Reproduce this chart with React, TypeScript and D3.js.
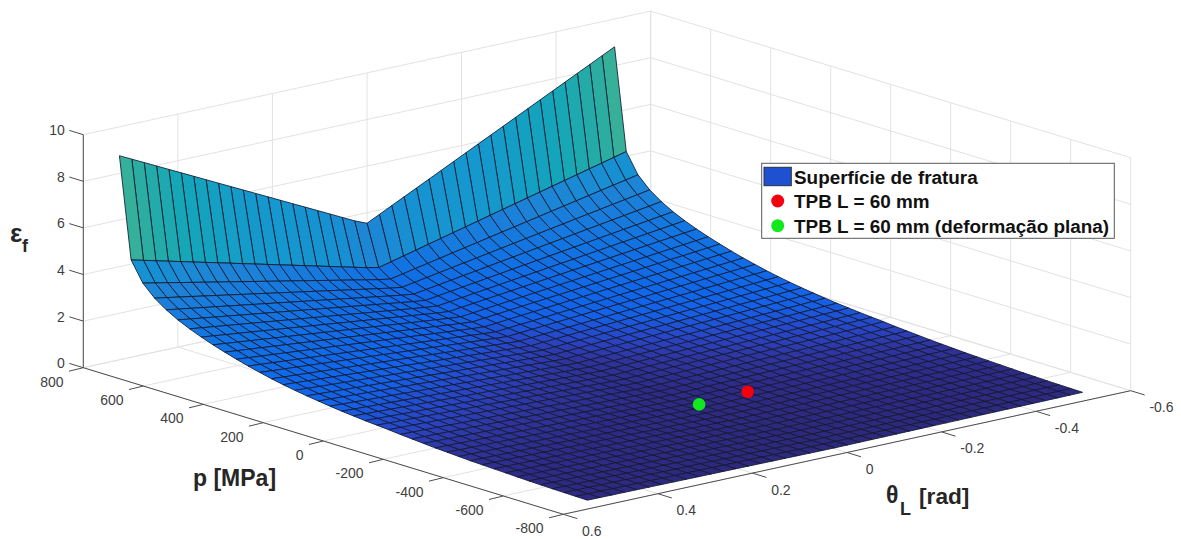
import React from "react";
import * as d3 from "d3";

// Data
const zTicks = [0, 2, 4, 6, 8, 10];
const pTicks = [800, 600, 400, 200, 0, -200, -400, -600, -800];
const thetaTicks = [0.6, 0.4, 0.2, 0, -0.2, -0.4, -0.6];
const pGrid = [800, 761, 722, 683, 644, 605, 566, 527, 488, 449, 410, 371, 332, 293, 254, 215, 176, 137, 98, 59, 20, -19, -58, -97, -136, -175, -214, -253, -292, -331, -370, -409, -448, -487, -526, -565, -604, -643, -682, -721, -760];
const thetaGrid = [0.5236, 0.4974, 0.4712, 0.445, 0.4189, 0.3927, 0.3665, 0.3403, 0.3142, 0.288, 0.2618, 0.2356, 0.2094, 0.1833, 0.1571, 0.1309, 0.1047, 0.0785, 0.0524, 0.0262, 0, -0.0262, -0.0524, -0.0785, -0.1047, -0.1309, -0.1571, -0.1833, -0.2094, -0.2356, -0.2618, -0.288, -0.3142, -0.3403, -0.3665, -0.3927, -0.4189, -0.445, -0.4712, -0.4974, -0.5236];
// strain at the theta = 0.52 edge, one value per pressure row
const edgeStrain = [8.76, 4.44, 3.6, 3.11, 2.76, 2.48, 2.25, 2.05, 1.87, 1.71, 1.56, 1.42, 1.3, 1.18, 1.08, 0.99, 0.91, 0.84, 0.77, 0.71, 0.66, 0.61, 0.57, 0.53, 0.48, 0.44, 0.4, 0.36, 0.33, 0.3, 0.27, 0.25, 0.23, 0.21, 0.19, 0.17, 0.155, 0.14, 0.13, 0.12, 0.11];
// relative strain across the Lode angle, one value per column
const lodeFactor = [1, 0.97, 0.94, 0.91, 0.88, 0.85, 0.82, 0.79, 0.76, 0.73, 0.7, 0.67, 0.64, 0.61, 0.58, 0.55, 0.52, 0.49, 0.46, 0.43, 0.405, 0.435, 0.465, 0.495, 0.525, 0.555, 0.585, 0.615, 0.645, 0.675, 0.705, 0.735, 0.765, 0.795, 0.825, 0.855, 0.885, 0.915, 0.945, 0.975, 1.005];
const points = [
  { name: "TPB L = 60 mm", p: -305, theta: -0.104, z: 0.2, color: "#f5000f" },
  { name: "TPB L = 60 mm (deformação plana)", p: -318, theta: 0.007, z: 0.2, color: "#12e81e" },
];
const legendSurface = "Superfície de fratura";

const colorZ = [0, 0.2, 0.35, 0.5, 0.75, 1, 2, 3.5, 4.4, 6, 7.5, 8.3, 8.8];
const colorV = ["#2e2878", "#2f2a88", "#30349f", "#2a44c4", "#1560e6", "#1066ea", "#1274e2", "#1e84d6", "#1692d2", "#1599cd", "#14a6b8", "#28aca4", "#3cb296"];

const px = d3.scaleLinear().domain([800, -800]).range([0, 480]);
const py = d3.scaleLinear().domain([800, -800]).range([0, 146.6]);
const tx = d3.scaleLinear().domain([0.6, -0.6]).range([83.3, 650.7]);
const ty = d3.scaleLinear().domain([0.6, -0.6]).range([367.7, 244.1]);
const zy = d3.scaleLinear().domain([0, 10]).range([0, -233]);
const color = d3.scaleLinear<string>().domain(colorZ).range(colorV).interpolate(d3.interpolateRgb);

const proj = (p: number, t: number, z = 0): [number, number] => [px(p) + tx(t), py(p) + ty(t) + zy(z)];
const line = d3.line();
const GRID = "#e2e2e2";
const AXIS = "#4d4d4d";
const TEXT = "#404040";
const FONT = "'Liberation Sans', Arial, sans-serif";

function Seg({ a, b, stroke, w = 1 }: { a: [number, number]; b: [number, number]; stroke: string; w?: number }) {
  return <path d={line([a, b])!} stroke={stroke} strokeWidth={w} fill="none" />;
}

export default function App() {
  const Z = edgeStrain.map((e) => lodeFactor.map((f) => e * f));
  const cells: React.ReactElement[] = [];
  for (let r = 0; r < pGrid.length - 1; r++) {
    for (let c = thetaGrid.length - 2; c >= 0; c--) {
      const d = line([
        proj(pGrid[r], thetaGrid[c], Z[r][c]),
        proj(pGrid[r], thetaGrid[c + 1], Z[r][c + 1]),
        proj(pGrid[r + 1], thetaGrid[c + 1], Z[r + 1][c + 1]),
        proj(pGrid[r + 1], thetaGrid[c], Z[r + 1][c]),
      ])! + "Z";
      cells.push(
        <path key={r + "-" + c} d={d} fill={color((Z[r][c] + Z[r][c + 1]) / 2)} stroke="#101a30" strokeWidth={0.85} strokeLinejoin="round" />
      );
    }
  }
  const pMin = -800, pMax = 800, tMin = -0.6, tMax = 0.6, zMax = 10;
  return (
    <svg width={1181} height={539} style={{ position: "absolute", left: 0, top: 0, background: "#fff" }} fontFamily={FONT}>
      {/* back walls and floor grid */}
      <g>
        {thetaTicks.map((t) => (
          <g key={"gt" + t}>
            <Seg a={proj(pMax, t)} b={proj(pMax, t, zMax)} stroke={GRID} />
            <Seg a={proj(pMin, t)} b={proj(pMax, t)} stroke={GRID} />
          </g>
        ))}
        {pTicks.map((p) => (
          <g key={"gp" + p}>
            <Seg a={proj(p, tMin)} b={proj(p, tMin, zMax)} stroke={GRID} />
            <Seg a={proj(p, tMin)} b={proj(p, tMax)} stroke={GRID} />
          </g>
        ))}
        {zTicks.map((z) => (
          <g key={"gz" + z}>
            <Seg a={proj(pMax, tMax, z)} b={proj(pMax, tMin, z)} stroke={GRID} />
            <Seg a={proj(pMax, tMin, z)} b={proj(pMin, tMin, z)} stroke={GRID} />
          </g>
        ))}
      </g>
      {/* axes */}
      <Seg a={proj(pMax, tMax)} b={proj(pMax, tMax, zMax)} stroke={AXIS} />
      <Seg a={proj(pMax, tMax)} b={proj(pMin, tMax)} stroke={AXIS} />
      <Seg a={proj(pMin, tMax)} b={proj(pMin, tMin)} stroke={AXIS} />
      {zTicks.map((z) => {
        const a = proj(pMax, tMax, z);
        return (
          <g key={"z" + z}>
            <Seg a={a} b={[a[0] - 14, a[1] - 4.3]} stroke={AXIS} />
            <text x={a[0] - 18.5} y={a[1] + 0.5} textAnchor="end" fontSize={14} fill={TEXT}>{z}</text>
          </g>
        );
      })}
      {pTicks.map((p) => {
        const a = proj(p, tMax);
        return (
          <g key={"p" + p}>
            <Seg a={a} b={[a[0] - 14.3, a[1] + 3.5]} stroke={AXIS} />
            <text x={a[0] - 19.8} y={a[1] + 19} textAnchor="end" fontSize={14} fill={TEXT}>{p}</text>
          </g>
        );
      })}
      {thetaTicks.map((t) => {
        const a = proj(pMin, t);
        return (
          <g key={"t" + t}>
            <Seg a={a} b={[a[0] + 14, a[1] + 4.3]} stroke={AXIS} />
            <text x={a[0] + 18.7} y={a[1] + 21.5} textAnchor="start" fontSize={14} fill={TEXT}>{t}</text>
          </g>
        );
      })}
      {/* surface */}
      <g>{cells}</g>
      {points.map((m) => {
        const [x, y] = proj(m.p, m.theta, m.z);
        return <circle key={m.name} cx={x} cy={y} r={6.3} fill={m.color} />;
      })}
      {/* axis labels */}
      <g fontWeight="bold" fill="#262626">
        <text x={193} y={486} fontSize={23}>p [MPa]</text>
        <text x={886} y={503} fontSize={23}>θ</text>
        <text x={900} y={515} fontSize={18}>L</text>
        <text x={919} y={504} fontSize={22.7}>[rad]</text>
        <text x={10} y={242} fontSize={26}>ε</text>
        <text x={22} y={252} fontSize={18}>f</text>
      </g>
      {/* legend */}
      <g>
        <rect x={761.7} y={163.3} width={352.6} height={75} fill="#fff" stroke="#595959" />
        <rect x={764} y={167.3} width={27.3} height={18.4} fill="#1f50d2" stroke="#26323c" />
        <g fontWeight="bold" fontSize={18.9} fill="#111">
          <text x={794} y={184}>{legendSurface}</text>
          <text x={794} y={208.3}>{points[0].name}</text>
          <text x={794} y={232.7}>{points[1].name}</text>
        </g>
        <circle cx={777.7} cy={201} r={6.5} fill={points[0].color} />
        <circle cx={777.7} cy={225.7} r={6.5} fill={points[1].color} />
      </g>
    </svg>
  );
}
